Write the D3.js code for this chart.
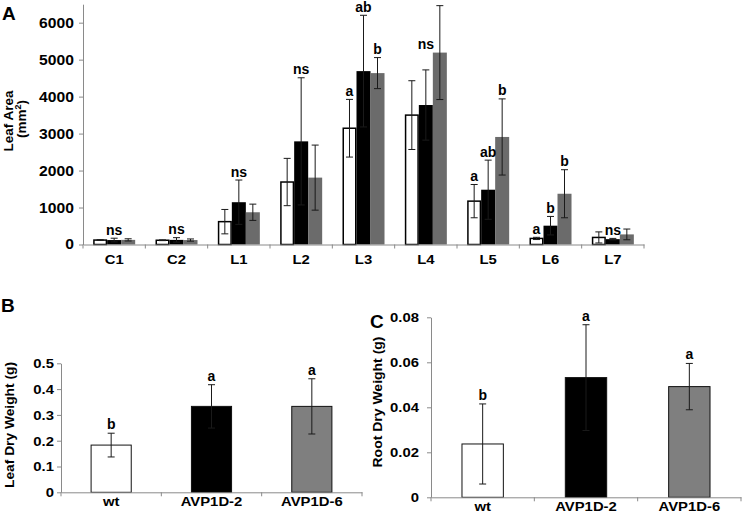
<!DOCTYPE html>
<html><head><meta charset="utf-8">
<script src="https://cdn.jsdelivr.net/npm/d3@7"></script>
<style>
body{margin:0;background:#fff}
svg{display:block}
text{font-family:"Liberation Sans",Arial,sans-serif;font-weight:bold;fill:#000}
</style>
</head><body>
<svg id="chart" width="747" height="515"></svg>
<script>
// ---------- Panel A data: leaf area (mm²) per leaf position ----------
const leafCats = ["C1","C2","L1","L2","L3","L4","L5","L6","L7"];
const wtArea      = [120, 115, 618, 1690, 3145, 3500, 1173, 164, 191];
const wtAreaErr   = [10, 10, 330, 640, 780, 930, 450, 30, 150];
const avp2Area    = [120, 125, 1144, 2790, 4690, 3773, 1482, 509, 145];
const avp2AreaErr = [50, 60, 600, 1720, 1510, 950, 800, 250, 20];
const avp6Area    = [125, 120, 872, 1809, 4636, 5191, 2909, 1373, 273];
const avp6AreaErr = [30, 30, 220, 880, 420, 1270, 1030, 650, 145];
const areaTicks = [0, 1000, 2000, 3000, 4000, 5000, 6000];
// annotations: [category, series index (0 wt,1 AVP1D-2,2 AVP1D-6), text, optional anchor value]
const areaLetters = [
  ["C1",1,"ns"],["C2",1,"ns"],["L1",1,"ns"],["L2",1,"ns"],
  ["L3",0,"a"],["L3",1,"ab"],["L3",2,"b"],
  ["L4",1,"ns",5200],
  ["L5",0,"a"],["L5",1,"ab"],["L5",2,"b"],
  ["L6",0,"a"],["L6",1,"b"],["L6",2,"b"],
  ["L7",1,"ns"]
];

// ---------- Panel B/C data ----------
const genotypes = ["wt","AVP1D-2","AVP1D-6"];
const leafDW       = [0.183, 0.333, 0.333];
const leafDWErr    = [0.046, 0.084, 0.107];
const leafDWLetters = ["b","a","a"];
const leafDWTicks  = [0, 0.1, 0.2, 0.3, 0.4, 0.5];
const rootDW       = [0.0237, 0.0532, 0.0492];
const rootDWErr    = [0.0178, 0.0235, 0.0103];
const rootDWLetters = ["b","a","a"];
const rootDWTicks  = [0, 0.02, 0.04, 0.06, 0.08];

const SX = 1.1;            // horizontal stretch of the original figure text
const AXIS = "#8a8a8a";
const svg = d3.select("#chart");

function styleAxis(g, fs){
  g.selectAll("path,line").attr("stroke", AXIS).attr("stroke-width", 1);
  g.selectAll("text").style("font-size", fs);
}

// ================= Panel A =================
{
  const series = [
    {v: wtArea, e: wtAreaErr, fill:"#fff", stroke:"#000", sw:1.5},
    {v: avp2Area, e: avp2AreaErr, fill:"#000", stroke:"none", sw:0},
    {v: avp6Area, e: avp6AreaErr, fill:"#6b6b6b", stroke:"none", sw:0}
  ];
  const x0 = d3.scaleBand().domain(leafCats).range([83, 644]).paddingInner(0.326).paddingOuter(0.163);
  const x1 = d3.scaleBand().domain([0,1,2]).range([0, x0.bandwidth()]);
  const y = d3.scaleLinear().domain([0, 6500]).range([244.5, 4.2]);
  const g = svg.append("g");

  // y axis
  const ya = g.append("g").attr("transform","translate(83,0)")
    .call(d3.axisLeft(y).tickValues(areaTicks).tickSize(4).tickSizeOuter(0).tickFormat(d3.format("d")));
  styleAxis(ya, "14px");
  const sy = 1.12;
  ya.selectAll("text").attr("transform",`scale(${sy},1)`).attr("x",-9/sy);

  // bars
  series.forEach((s, si) => {
    g.append("g").selectAll("rect").data(leafCats).join("rect")
      .attr("x", c => x0(c) + x1(si) + s.sw/2)
      .attr("y", (c,i) => y(s.v[i]))
      .attr("width", x1.bandwidth() - s.sw)
      .attr("height", (c,i) => y(0) - y(s.v[i]))
      .attr("fill", s.fill).attr("stroke", s.stroke).attr("stroke-width", s.sw);
  });
  // error bars
  series.forEach((s, si) => {
    const eg = g.append("g").attr("stroke", "#1a1a1a").attr("stroke-width", 1);
    leafCats.forEach((c, i) => {
      const cx = x0(c) + x1(si) + x1.bandwidth()/2;
      const hi = y(s.v[i] + s.e[i]), lo = y(Math.max(0, s.v[i] - s.e[i]));
      eg.append("line").attr("x1",cx).attr("x2",cx).attr("y1",hi).attr("y2",lo);
      eg.append("line").attr("x1",cx-3.5).attr("x2",cx+3.5).attr("y1",hi).attr("y2",hi);
      eg.append("line").attr("x1",cx-3.5).attr("x2",cx+3.5).attr("y1",lo).attr("y2",lo);
    });
  });

  // x axis
  const xa = g.append("g").attr("transform",`translate(0,${y(0)})`)
    .call(d3.axisBottom(x0).tickSize(0).tickSizeOuter(0).tickPadding(10));
  styleAxis(xa, "13.5px");
  xa.selectAll("text").attr("transform",`scale(${SX},1)`);
  const bounds = leafCats.map(c => x0(c) - (x0.step()-x0.bandwidth())/2).concat([x0(leafCats[leafCats.length-1]) + x0.bandwidth() + (x0.step()-x0.bandwidth())/2]);
  xa.selectAll(".bnd").data(bounds).join("line").attr("class","bnd")
    .attr("x1", d=>d).attr("x2", d=>d).attr("y1",0).attr("y2",4).attr("stroke",AXIS);

  // letters
  g.append("g").selectAll("text").data(areaLetters).join("text")
    .attr("x", d => x0(d[0]) + x1(d[1]) + x1.bandwidth()/2)
    .attr("y", d => {
      const i = leafCats.indexOf(d[0]);
      const top = d[3] !== undefined ? d[3] : series[d[1]].v[i] + series[d[1]].e[i];
      return y(top) - 3.5;
    })
    .attr("text-anchor","middle").style("font-size","14px").text(d => d[2]);

  // axis title
  g.append("text").attr("transform","translate(12.5,121) rotate(-90)").attr("text-anchor","middle")
    .style("font-size","13.5px").text("Leaf Area");
  const t2 = g.append("text").attr("transform","translate(25.5,119) rotate(-90)").attr("text-anchor","middle")
    .style("font-size","13.5px");
  t2.append("tspan").text("(mm");
  t2.append("tspan").attr("dy","-5").style("font-size","9px").text("2");
  t2.append("tspan").attr("dy","5").text(")");

  svg.append("text").attr("x",2).attr("y",20).style("font-size","19px").text("A");
}

// ================= Panels B & C =================
function smallPanel(opts){
  const {vals, errs, letters, ticks, fmt, xr, yr, title, titleX, titleY, titleLen, tickOff, labelPad, grey} = opts;
  const g = svg.append("g");
  const x = d3.scaleBand().domain(genotypes).range(xr).paddingInner(0.59).paddingOuter(0.295);
  const y = d3.scaleLinear().domain([ticks[0], ticks[ticks.length-1]]).range(yr);
  const fills = ["#fff","#000",grey];

  const ya = g.append("g").attr("transform",`translate(${xr[0]},0)`)
    .call(d3.axisLeft(y).tickValues(ticks).tickSize(4).tickSizeOuter(0).tickFormat(fmt));
  styleAxis(ya, "13.5px");
  ya.selectAll("text").attr("transform",`scale(${SX},1)`).attr("x",-tickOff/SX);

  g.append("g").selectAll("rect").data(genotypes).join("rect")
    .attr("x", d => x(d) + 0.5)
    .attr("y", (d,i) => y(vals[i]))
    .attr("width", x.bandwidth() - 1)
    .attr("height", (d,i) => y(0) - y(vals[i]))
    .attr("fill", (d,i) => fills[i]).attr("stroke","#111").attr("stroke-width",1);

  const eg = g.append("g").attr("stroke","#1a1a1a").attr("stroke-width",1);
  genotypes.forEach((d,i) => {
    const cx = x(d) + x.bandwidth()/2;
    const hi = y(vals[i] + errs[i]), lo = y(Math.max(0, vals[i] - errs[i]));
    eg.append("line").attr("x1",cx).attr("x2",cx).attr("y1",hi).attr("y2",lo);
    eg.append("line").attr("x1",cx-3.5).attr("x2",cx+3.5).attr("y1",hi).attr("y2",hi);
    eg.append("line").attr("x1",cx-3.5).attr("x2",cx+3.5).attr("y1",lo).attr("y2",lo);
  });

  const xa = g.append("g").attr("transform",`translate(0,${y(0)})`)
    .call(d3.axisBottom(x).tickSize(0).tickSizeOuter(0).tickPadding(labelPad));
  styleAxis(xa, "13.5px");
  xa.selectAll("text").attr("transform",`scale(${SX},1)`);
  const st = x.step(), pad = (st - x.bandwidth())/2;
  const bounds = genotypes.map(d => x(d) - pad).concat([x(genotypes[2]) + x.bandwidth() + pad]);
  xa.selectAll(".bnd").data(bounds).join("line").attr("class","bnd")
    .attr("x1", d=>d).attr("x2", d=>d).attr("y1",0).attr("y2",4).attr("stroke",AXIS);

  g.append("g").selectAll("text").data(letters).join("text")
    .attr("x", (d,i) => x(genotypes[i]) + x.bandwidth()/2)
    .attr("y", (d,i) => y(vals[i] + errs[i]) - 4)
    .attr("text-anchor","middle").style("font-size","14px").text(d => d);

  g.append("text").attr("transform",`translate(${titleX},${titleY}) rotate(-90)`)
    .attr("text-anchor","middle").style("font-size","13.5px")
    .attr("textLength", titleLen).attr("lengthAdjust","spacingAndGlyphs")
    .text(title);
}

smallPanel({vals: leafDW, errs: leafDWErr, letters: leafDWLetters, ticks: leafDWTicks,
  fmt: d => d === 0 ? "0" : d3.format(".1f")(d),
  xr: [61, 362], yr: [492.3, 363.3], title: "Leaf Dry Weight  (g)", titleX: 14, titleY: 425, titleLen: 126,
  tickOff: 7, labelPad: 4, grey: "#7f7f7f"});
svg.append("text").attr("x",1).attr("y",312).style("font-size","19px").text("B");

smallPanel({vals: rootDW, errs: rootDWErr, letters: rootDWLetters, ticks: rootDWTicks,
  fmt: d => d === 0 ? "0" : d3.format(".2f")(d),
  xr: [431, 741], yr: [497.3, 317.3], title: "Root Dry Weight (g)", titleX: 382, titleY: 402, titleLen: 131,
  tickOff: 12, labelPad: 4, grey: "#7f7f7f"});
svg.append("text").attr("x",370).attr("y",328).style("font-size","19px").text("C");
</script>
</body></html>
